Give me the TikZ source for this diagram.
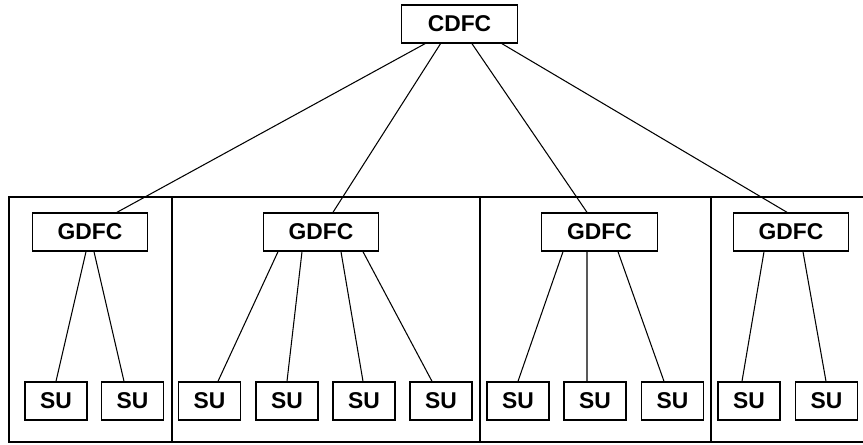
\documentclass[tikz,border=0pt]{standalone}
\usepackage{fontspec}
\setmainfont{Liberation Sans}
\usetikzlibrary{positioning,calc}

\begin{document}
\begin{tikzpicture}[x=0.02cm,y=-0.02cm,
  ctrlbox/.style={draw,shape=rectangle,line width=0.8pt,inner sep=0pt,
    minimum width=2.31cm,minimum height=0.76cm,
    font=\fontsize{13}{15}\selectfont\bfseries},
  subox/.style={ctrlbox,minimum width=1.24cm},
  link/.style={line width=0.6pt}]
\useasboundingbox (0,0) rectangle (863,444);
% group frames
\draw[line width=0.8pt] (863,197) -- (9,197) -- (9,442) -- (863,442);
\draw[line width=0.8pt] (172,197) -- (172,442)
  (480,197) -- (480,442)
  (711,197) -- (711,442);

      \draw node (c0) at (459.5,24) [ctrlbox]{CDFC};
\draw node (g1) at (90,232) [ctrlbox]{GDFC};
\draw node (g2) at (321,232) [ctrlbox]{GDFC};
\draw node (g3) at (599.5,232) [ctrlbox]{GDFC};
\draw node (g4) at (791,232) [ctrlbox]{GDFC};
\draw node foreach \x/\i in {56/1,132.5/2,209.5/3,287/4,364/5,441/6,518/7,595/8,672.5/9,749/10,826.5/11}
  (s\i) at (\x,401) [subox]{SU};
\draw[link] ($(c0.south)+(-34.5,0)$) -- ($(g1.north)+(27,0)$)
  ($(c0.south)+(-19,0)$) -- ($(g2.north)+(12,0)$)
  ($(c0.south)+(12.5,0)$) -- ($(g3.north)+(-12.5,0)$)
  ($(c0.south)+(42.5,0)$) -- ($(g4.north)+(-4,0)$);
\draw[link] ($(g1.south)+(-4,0)$) -- (s1.north)
  ($(g1.south)+(4,0)$) -- ($(s2.north)+(-8.5,0)$)
  ($(g2.south)+(-43,0)$) -- ($(s3.north)+(8.5,0)$)
  ($(g2.south)+(-19,0)$) -- (s4.north)
  ($(g2.south)+(20,0)$) -- ($(s5.north)+(-1,0)$)
  ($(g2.south)+(42,0)$) -- ($(s6.north)+(-9,0)$)
  ($(g3.south)+(-36.5,0)$) -- (s7.north)
  ($(g3.south)+(-12.5,0)$) -- ($(s8.north)+(-8,0)$)
  ($(g3.south)+(18.5,0)$) -- ($(s9.north)+(-8.5,0)$)
  ($(g4.south)+(-27,0)$) -- ($(s10.north)+(-7,0)$)
  ($(g4.south)+(12,0)$) -- ($(s11.north)+(-0.5,0)$);
\end{tikzpicture}
\end{document}
